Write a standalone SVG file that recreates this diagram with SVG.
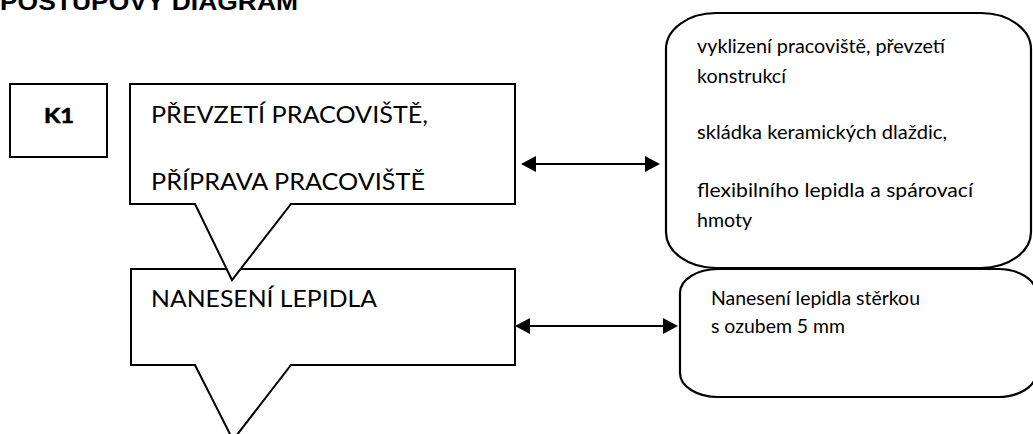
<svg xmlns="http://www.w3.org/2000/svg" width="1033" height="434" viewBox="0 0 1033 434">
  <defs>
    <style>
      .shape { fill: #fff; stroke: #000; stroke-width: 2; stroke-linejoin: miter; }
      .round { fill: #fff; stroke: #000; stroke-width: 2.2; }
      .title { font-family: "Liberation Sans", Arial, sans-serif; font-weight: bold; font-size: 23px; fill: #000; }
      .step  { font-family: Lato, "Noto Sans", sans-serif; font-size: 23.5px; fill: #000; }
      .note  { font-family: Lato, "Noto Sans", sans-serif; font-size: 20px; fill: #000; }
      .tag   { font-family: Lato, "Noto Sans", sans-serif; font-weight: bold; font-size: 20px; fill: #000; stroke: #000; stroke-width: 0.6; }
      .link  { stroke: #000; stroke-width: 2.2; fill: none; }
    </style>
    <marker id="head" markerUnits="userSpaceOnUse" markerWidth="15" markerHeight="16" viewBox="0 0 15 16" refX="5" refY="8" orient="auto-start-reverse">
      <path d="M0,0 L15,8 L0,16 Z" fill="#000"/>
    </marker>
  </defs>

  <!-- heading, partly above the top edge -->
  <text class="title" x="0" y="10" textLength="298" lengthAdjust="spacingAndGlyphs">POSTUPOVÝ DIAGRAM</text>

  <!-- label box -->
  <g id="k1">
    <rect class="shape" x="10" y="84" width="97" height="73"/>
    <text class="tag" x="44" y="123" textLength="30" lengthAdjust="spacingAndGlyphs">K1</text>
  </g>

  <!-- step 2 callout (drawn first, step 1 pointer overlaps it) -->
  <g id="step-nanaseni">
    <path class="shape" d="M131,269 H515 V365 H291 L233,440 L195,365 H131 Z"/>
    <text class="step" x="151" y="307" textLength="226" lengthAdjust="spacingAndGlyphs">NANESENÍ LEPIDLA</text>
  </g>

  <!-- step 1 callout -->
  <g id="step-prevzeti">
    <path class="shape" d="M130,84 H515 V204 H291 L232,280 L195,204 H130 Z"/>
    <text class="step" x="151" y="123" textLength="277" lengthAdjust="spacingAndGlyphs">PŘEVZETÍ PRACOVIŠTĚ,</text>
    <text class="step" x="151" y="190" textLength="274" lengthAdjust="spacingAndGlyphs">PŘÍPRAVA PRACOVIŠTĚ</text>
  </g>

  <!-- detail note for step 1 -->
  <g id="note-prevzeti">
    <rect class="round" x="666" y="13" width="365" height="255" rx="50" ry="36"/>
    <text class="note" x="697" y="53" textLength="248" lengthAdjust="spacingAndGlyphs">vyklizení pracoviště, převzetí</text>
    <text class="note" x="697" y="83" textLength="89" lengthAdjust="spacingAndGlyphs">konstrukcí</text>
    <text class="note" x="697" y="139" textLength="250" lengthAdjust="spacingAndGlyphs">skládka keramických dlaždic,</text>
    <text class="note" x="697" y="197" textLength="276" lengthAdjust="spacingAndGlyphs">flexibilního lepidla a spárovací</text>
    <text class="note" x="697" y="227" textLength="55" lengthAdjust="spacingAndGlyphs">hmoty</text>
  </g>

  <!-- detail note for step 2 -->
  <g id="note-nanaseni">
    <rect class="round" x="680" y="269" width="356" height="128" rx="38" ry="24"/>
    <text class="note" x="711" y="305" textLength="209" lengthAdjust="spacingAndGlyphs">Nanesení lepidla stěrkou</text>
    <text class="note" x="711" y="333" textLength="134" lengthAdjust="spacingAndGlyphs">s ozubem 5 mm</text>
  </g>

  <!-- two-way links between steps and notes -->
  <g id="connectors">
    <line class="link" x1="531" y1="164" x2="650" y2="164" marker-start="url(#head)" marker-end="url(#head)"/>
    <line class="link" x1="525" y1="326" x2="668" y2="326" marker-start="url(#head)" marker-end="url(#head)"/>
  </g>
</svg>
